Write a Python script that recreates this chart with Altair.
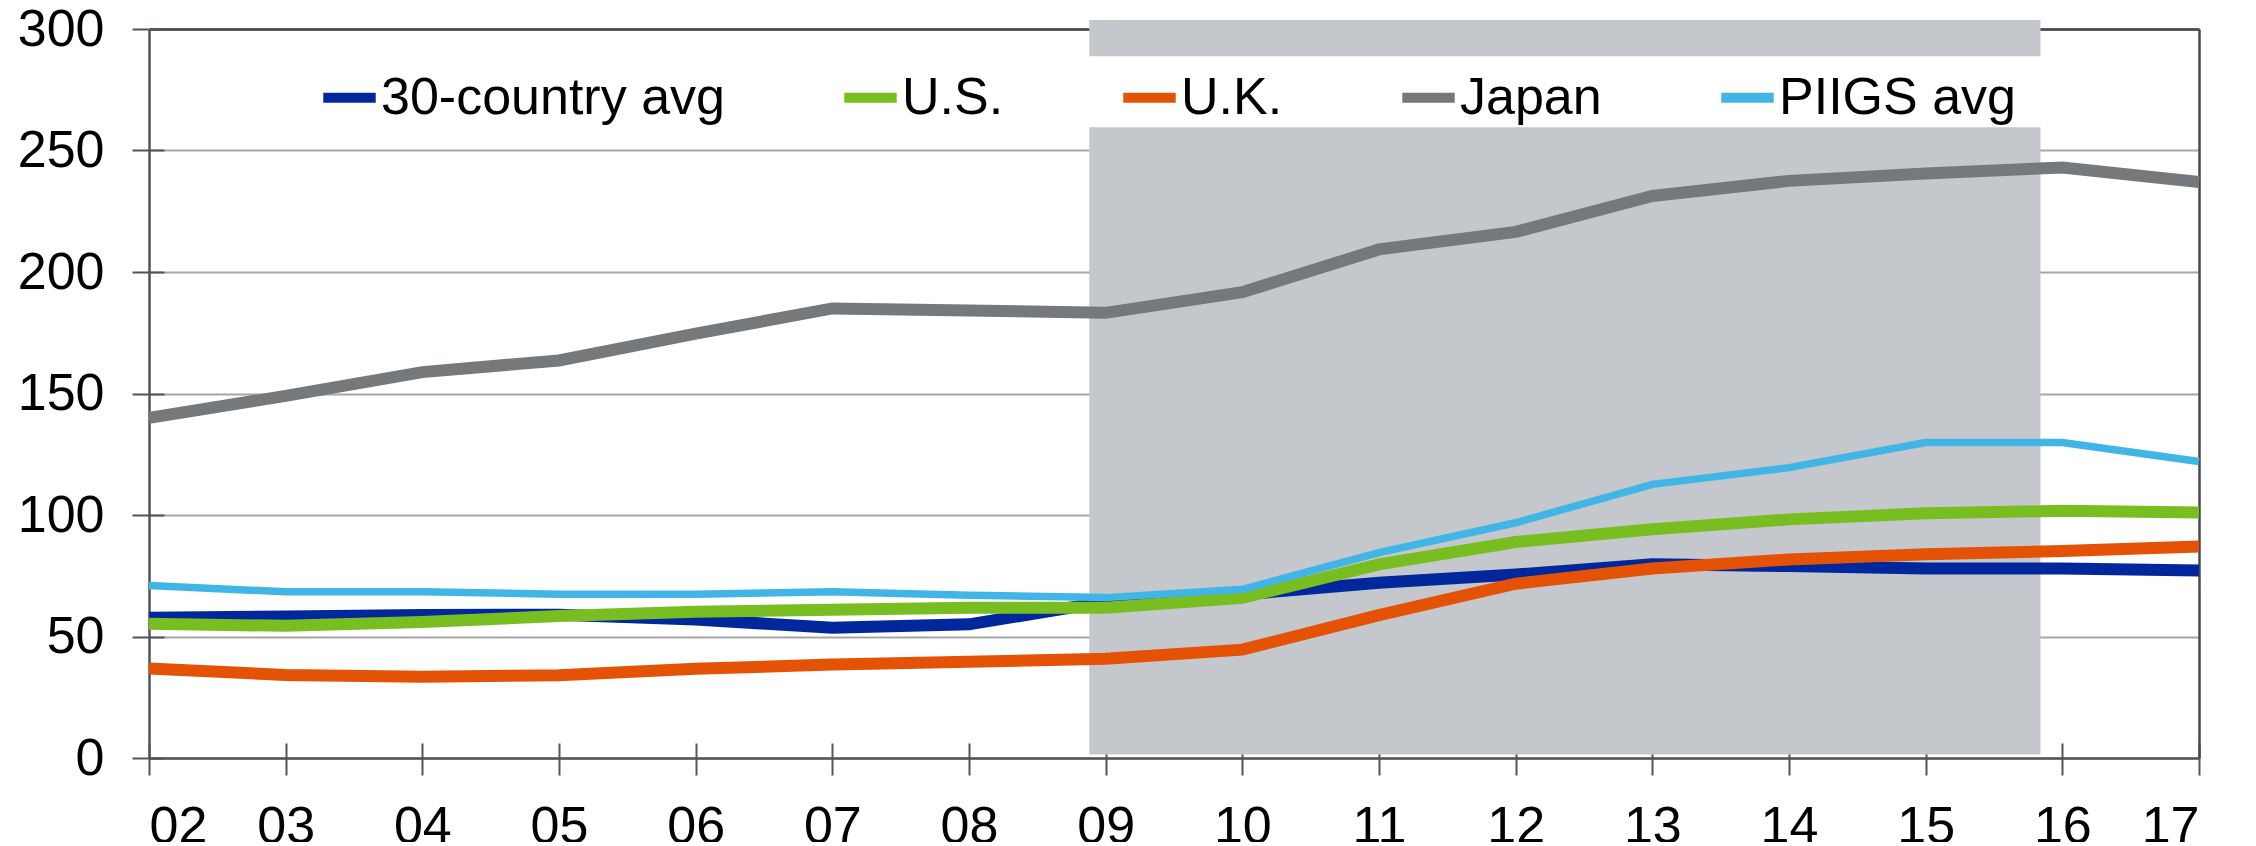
import altair as alt
import pandas as pd

# ---- data ----
years = list(range(2, 18))
tick_labels = ["02", "03", "04", "05", "06", "07", "08", "09",
               "10", "11", "12", "13", "14", "15", "16", "17"]
series_names = ["30-country avg", "U.S.", "U.K.", "Japan", "PIIGS avg"]
series_colors = ["#00289C", "#78BE20", "#E35205", "#75797C", "#41B6E6"]

avg30 = [57.7, 58.2, 58.8, 59.0, 57.0, 53.6, 55.0, 64.3, 67.3, 72.1, 75.5, 79.7, 79.0, 78.0, 78.0, 77.2]
us = [55.2, 54.4, 56.0, 58.4, 60.2, 61.0, 61.8, 61.8, 65.9, 79.7, 88.9, 94.1, 98.2, 100.7, 101.7, 101.0]
uk = [36.8, 34.2, 33.4, 34.1, 36.7, 38.5, 39.6, 40.8, 44.6, 58.8, 71.7, 78.0, 81.7, 83.8, 85.2, 87.0]
japan = [140.0, 149.0, 158.8, 163.6, 174.6, 185.0, 184.2, 183.2, 191.7, 209.3, 216.5, 231.3, 237.5, 240.5, 243.0, 237.0]
piigs = [71.0, 68.4, 68.4, 67.4, 67.4, 68.4, 67.0, 66.0, 69.4, 84.5, 96.8, 112.6, 119.5, 129.8, 129.8, 122.0]

# shaded period (x in years) and its two vertical pieces (legend gap between)
shade_x_start = [8.88, 8.88]
shade_x_end = [15.84, 15.84]
shade_y_low = [1.4, 288.8]
shade_y_high = [259.6, 303.7]

y_ticks = [0, 50, 100, 150, 200, 250, 300]

# ---- build tables ----
rows = []
for name, vals in zip(series_names, [avg30, us, uk, japan, piigs]):
    for yr, v in zip(years, vals):
        rows.append({"year": yr, "value": v, "series": name})
df = pd.DataFrame(rows)

shade_df = pd.DataFrame({"x1": shade_x_start, "x2": shade_x_end,
                         "y1": shade_y_low, "y2": shade_y_high})

FONT = "Liberation Sans"
DARK = "#46494D"
TICK = "#50555A"
label_expr = "datum.value < 10 ? '0' + datum.value : '' + datum.value"

x_scale = alt.Scale(domain=[2, 17], nice=False, zero=False)
y_scale = alt.Scale(domain=[0, 300], nice=False)

shade = alt.Chart(shade_df).mark_rect(color="#C4C8CC").encode(
    x=alt.X("x1:Q", scale=x_scale,
            axis=alt.Axis(values=years, labelExpr=label_expr, title=None, grid=False,
                          tickSize=17, tickWidth=2, tickColor=TICK,
                          domainColor=TICK, domainWidth=2.5,
                          labelFontSize=52, labelFont=FONT, labelColor="#000000",
                          labelPadding=26)),
    x2="x2:Q",
    y=alt.Y("y1:Q", scale=y_scale,
            axis=alt.Axis(values=y_ticks, title=None, grid=True,
                          gridColor=alt.condition("datum.value == 300",
                                                  alt.value(DARK), alt.value("#A6A6A6")),
                          gridWidth=2, tickSize=17, tickWidth=2, tickColor=TICK,
                          domainColor=TICK, domainWidth=2.5,
                          labelFontSize=52, labelFont=FONT, labelColor="#000000",
                          labelPadding=28)),
    y2="y2:Q",
)

lines = alt.Chart(df).mark_line(strokeJoin="miter").encode(
    x=alt.X("year:Q", scale=x_scale,
            axis=alt.Axis(orient="top", labels=False, ticks=False, grid=False,
                          domainColor=DARK, domainWidth=2.5, title=None)),
    y=alt.Y("value:Q", scale=y_scale,
            axis=alt.Axis(orient="right", labels=False, ticks=False, grid=False,
                          domainColor=DARK, domainWidth=2.5, title=None)),
    color=alt.Color("series:N", sort=series_names,
                    scale=alt.Scale(domain=series_names, range=series_colors),
                    legend=alt.Legend(title=None, orient="none", direction="horizontal",
                                      columns=5, legendX=169, legendY=37,
                                      symbolType="stroke", symbolSize=2750,
                                      symbolStrokeWidth=10,
                                      labelFontSize=52, labelFont=FONT,
                                      labelColor="#000000", labelOffset=0,
                                      columnPadding=99, labelLimit=1000)),
    strokeWidth=alt.condition(alt.datum.series == "PIIGS avg",
                              alt.value(7.5), alt.value(12)),
)

# inner halves of the crossing tick marks
inner = alt.Chart(df).mark_line(opacity=0).encode(
    x=alt.X("year:Q", scale=x_scale,
            axis=alt.Axis(orient="bottom", offset=-15, tickSize=15, tickWidth=2,
                          tickColor=TICK, values=years, labels=False,
                          domain=False, grid=False, title=None)),
    y=alt.Y("value:Q", scale=y_scale,
            axis=alt.Axis(orient="left", offset=-15, tickSize=15, tickWidth=2,
                          tickColor=TICK, values=y_ticks, labels=False,
                          domain=False, grid=False, title=None)),
)

chart = alt.layer(shade, lines, inner).resolve_axis(
    x="independent", y="independent"
).properties(
    width=2050, height=729,
    autosize=alt.AutoSizeParams(type="none"),
    padding={"left": 141, "top": 21, "right": 40, "bottom": 84},
).configure_view(
    stroke=None
).configure(font=FONT)

chart.save("out.html", embed_options={"renderer": "svg", "actions": False})
